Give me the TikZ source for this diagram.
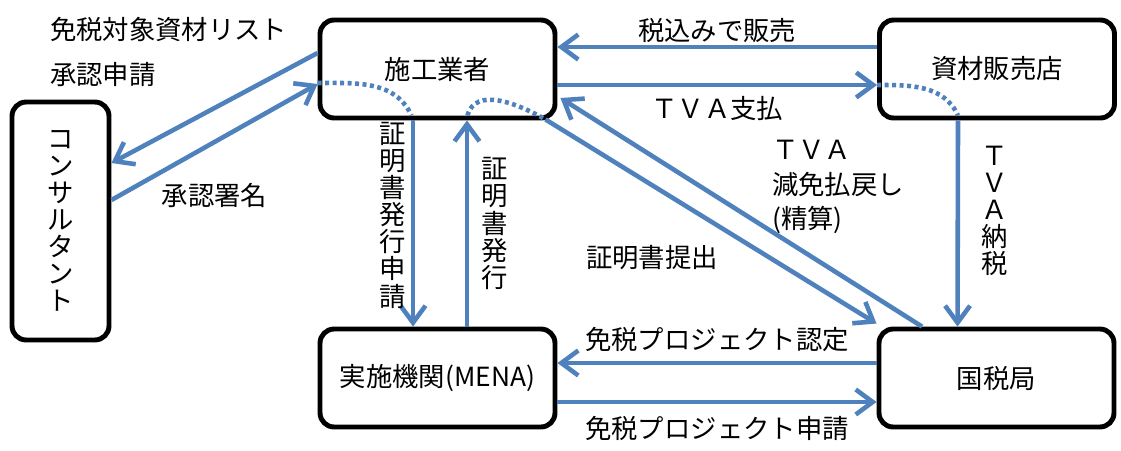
\documentclass[tikz,border=0pt]{standalone}
\usepackage{fontspec}
\newfontfamily\jpfont{Noto Sans CJK JP}
\usetikzlibrary{positioning,arrows.meta}
\definecolor{FlowBlue}{HTML}{4F81BD}

\begin{document}
\begin{tikzpicture}[x=0.02cm, y=-0.02cm,
  actor/.style={rectangle, draw=black, line width=2.8pt, rounded corners=8pt, minimum width=4.7cm, minimum height=1.96cm, align=center, font=\jpfont\fontsize{15}{15.4}\selectfont},
  lbl/.style={inner sep=1pt, font=\jpfont\fontsize{15}{15.4}\selectfont},
  vlbl/.style={inner sep=1pt, align=center, font=\jpfont\fontsize{15}{15.4}\selectfont},
  arr/.style={-{Straight Barb[length=3.4mm,width=5mm]}, line width=2.6pt, draw=FlowBlue},
  dots/.style={draw=FlowBlue, line width=2.6pt, dash pattern=on 0.08cm off 0.07cm}
]
  \useasboundingbox (0,0) rectangle (1121,450);

  % Nodes
  \node[actor] (sekou) at (437.5,69) {施工業者};
  \node[actor] (hanbai) at (997,69) {資材販売店};
  \node[actor, minimum width=1.94cm, minimum height=4.76cm] (consult) at (60.5,221) {コ\\ン\\サ\\ル\\タ\\ン\\ト};
  \node[actor] (mena) at (437.5,378) {実施機関(MENA)};
  \node[actor] (kokuzei) at (996.5,378) {国税局};

  % Free labels
  \node[lbl, anchor=west, align=left] (listlbl) at (48,52) {免税対象資材リスト\\[0.35cm]承認申請};
  \node[lbl, anchor=west, align=left, font=\jpfont\fontsize{15}{19.8}\selectfont] (refundlbl) at (770,187) {ＴＶＡ\\減免払戻し\\(精算)};
  \node[lbl] (submitlbl) at (652,258) {証明書提出};

  % Connections
  \draw[arr] ([yshift=0.32cm]sekou.west) -- ([yshift=1.16cm]consult.east);
  \draw[arr] ([yshift=0.42cm]consult.east) -- node[lbl, below=0.75cm] (signlbl) {承認署名} ([yshift=-0.3cm]sekou.west);
  \draw[arr] ([xshift=-0.49cm]sekou.south) -- node[vlbl, pos=0.46, left=2pt] (reqlbl) {証\\明\\書\\発\\行\\申\\請} ([xshift=-0.49cm]mena.north);
  \draw[arr] ([xshift=0.59cm]mena.north) -- node[vlbl, right=6pt] (issuelbl) {証\\明\\書\\発\\行} ([xshift=0.59cm]sekou.south);
  \draw[arr] ([yshift=0.44cm]hanbai.west) -- node[lbl, above] (salelbl) {税込みで販売} ([yshift=0.44cm]sekou.east);
  \draw[arr] ([yshift=-0.32cm]sekou.east) -- node[lbl, below=4pt] (paylbl) {ＴＶＡ支払} ([yshift=-0.32cm]hanbai.west);
  \draw[arr] ([xshift=-0.24cm,yshift=0.02cm]sekou.south east) -- ([yshift=0.06cm]kokuzei.north west);
  \draw[arr] ([xshift=-1.49cm]kokuzei.north) -- ([xshift=0.06cm,yshift=-0.58cm]sekou.east);
  \draw[arr] ([xshift=-0.78cm]hanbai.south) -- node[vlbl, pos=0.44, right=0.4cm] (taxlbl) {Ｔ\\Ｖ\\Ａ\\納\\税} ([xshift=-0.78cm]kokuzei.north);
  \draw[arr] ([yshift=0.3cm]kokuzei.west) -- node[lbl, above=4pt] (certlbl) {免税プロジェクト認定} ([yshift=0.3cm]mena.east);
  \draw[arr] ([yshift=-0.48cm]mena.east) -- node[lbl, below=6pt] (applylbl) {免税プロジェクト申請} ([yshift=-0.48cm]kokuzei.west);

  % Dotted pass-through
  \draw[dots] ([yshift=-0.28cm]sekou.west) to[out=0,in=115] ([xshift=-0.52cm,yshift=0.1cm]sekou.south);
  \draw[dots] ([xshift=0.6cm,yshift=0.1cm]sekou.south) to[out=75,in=150] ([xshift=-0.24cm,yshift=0.02cm]sekou.south east);
  \draw[dots] ([yshift=-0.32cm]hanbai.west) to[out=0,in=115] ([xshift=-0.78cm,yshift=0.1cm]hanbai.south);

\end{tikzpicture}
\end{document}
